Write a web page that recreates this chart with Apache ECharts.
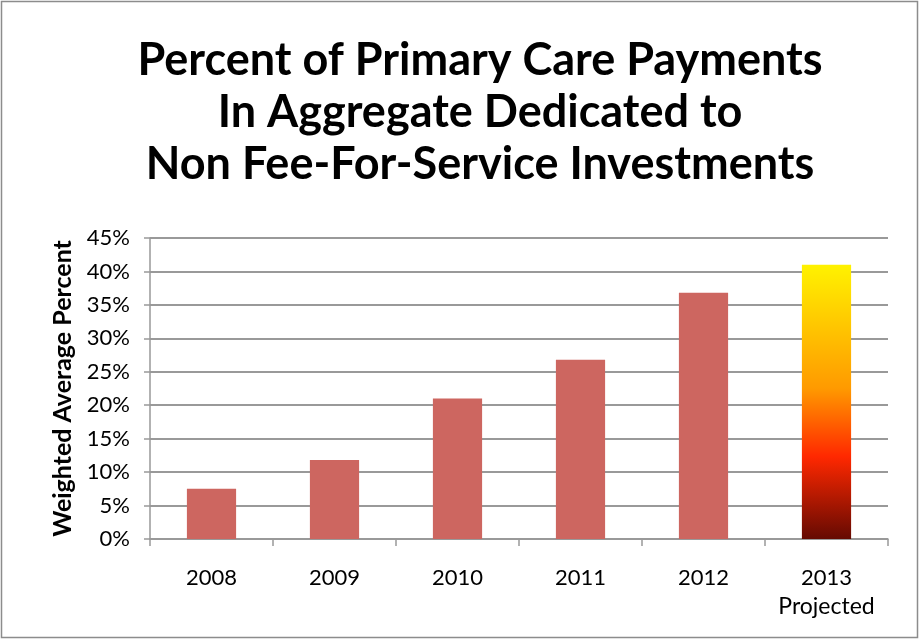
<!DOCTYPE html>
<html><head><meta charset="utf-8">
<script src="https://cdn.jsdelivr.net/npm/echarts@6/dist/echarts.min.js"></script>
<style>html,body{margin:0;padding:0;background:#fff}#c{width:920px;height:640px}</style>
</head><body><div id="c"></div>
<script>
const categories = ['2008', '2009', '2010', '2011', '2012', '2013\nProjected'];
const values = [7.5, 11.8, 21.0, 26.8, 36.8, 41.0];
const yTicks = { min: 0, max: 45, interval: 5 };
const titleLines = ['Percent of Primary Care Payments', 'In Aggregate Dedicated to', 'Non Fee-For-Service Investments'];
const yAxisName = 'Weighted Average Percent';

const chart = echarts.init(document.getElementById('c'), null, { renderer: 'canvas' });
const gradient = new echarts.graphic.LinearGradient(0, 0, 0, 1, [
  { offset: 0, color: '#FFF200' },
  { offset: 0.45, color: '#FF9A00' },
  { offset: 0.7, color: '#FF2800' },
  { offset: 1, color: '#650A02' }
]);
const data = values.map((v, i) => i === values.length - 1 ? { value: v, itemStyle: { color: gradient } } : v);

chart.setOption({
  animation: false,
  textStyle: { fontFamily: 'Lato' },
  graphic: [
    { type: 'rect', shape: { x: 1.5, y: 1.5, width: 916, height: 636 }, style: { fill: null, stroke: '#8c8c8c', lineWidth: 1.5 }, silent: true },
    { type: 'text', x: 480, y: 34, silent: true,
      style: { text: titleLines.join('\n'), align: 'center', verticalAlign: 'top', fontFamily: 'Lato', fontWeight: 'bold', fontSize: 45, lineHeight: 52, fill: '#000' } }
  ],
  grid: { left: 150, right: 32, top: 238, bottom: 101, containLabel: false },
  xAxis: {
    type: 'category', data: categories,
    axisLine: { lineStyle: { color: '#999', width: 1.5 } },
    axisTick: { show: true, length: 7, lineStyle: { color: '#999', width: 1.5 } },
    axisLabel: { color: '#000', fontSize: 22, margin: 24, lineHeight: 29, fontFamily: 'Lato', interval: 0,
      formatter: function (v) { return v.indexOf('\n') >= 0 ? v.split('\n')[0] + '\n{p|' + v.split('\n')[1] + '}' : v; },
      rich: { p: { fontSize: 23, color: '#000', fontFamily: 'Lato', lineHeight: 29 } } }
  },
  yAxis: {
    type: 'value', min: yTicks.min, max: yTicks.max, interval: yTicks.interval,
    name: yAxisName, nameLocation: 'middle', nameGap: 75, nameRotate: 90,
    nameTextStyle: { fontFamily: 'Lato', fontWeight: 'bold', fontSize: 25, color: '#000' },
    axisLine: { show: true, lineStyle: { color: '#999', width: 1.5 } },
    axisTick: { show: true, length: 6, lineStyle: { color: '#999', width: 1.5 } },
    axisLabel: { color: '#000', fontSize: 22, margin: 20, formatter: '{value}%', fontFamily: 'Lato' },
    splitLine: { show: true, lineStyle: { color: '#999', width: 2 } }
  },
  series: [{ type: 'bar', data: data, barWidth: '40%', itemStyle: { color: '#CD6660' } }]
});
</script></body></html>
